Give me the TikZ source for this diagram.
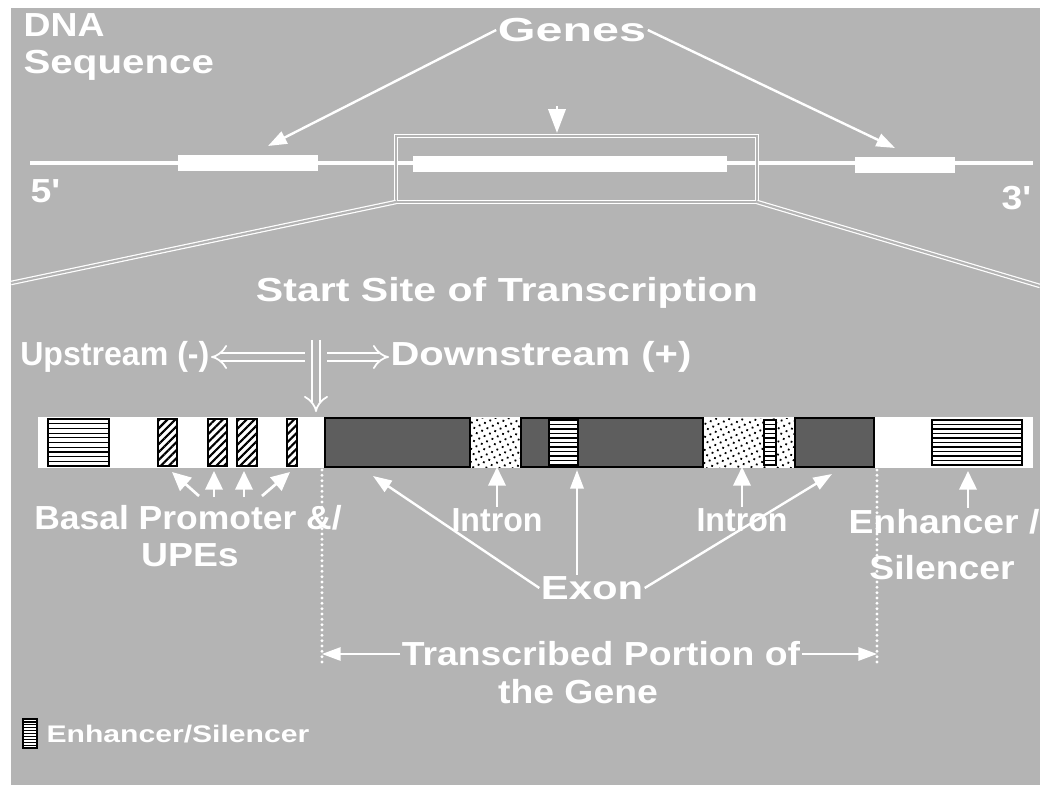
\documentclass[tikz,border=0pt]{standalone}
\usepackage{fontspec}
\setmainfont{Liberation Sans}[FakeStretch=1.12]
\usetikzlibrary{arrows.meta,patterns.meta,fit,calc}
\definecolor{bg}{HTML}{B4B4B4}
\definecolor{exonfill}{HTML}{5E5E5E}
% horizontal stretch of a label
\newcommand{\hs}[2]{\scalebox{#1}[1]{#2}}

\begin{document}
\begin{tikzpicture}[x=0.75pt,y=-0.75pt,
  lbl/.style={text=white,font=\bfseries\fontsize{25}{28}\selectfont,align=center,inner sep=1pt},
  small/.style={text=white,font=\bfseries\fontsize{18}{20}\selectfont,inner sep=1pt},
  seg/.style={inner sep=0pt,outer sep=0pt},
  plainbox/.style={seg,fill=white},
  exonbox/.style={seg,draw=black,line width=1.1pt,fill=exonfill},
  hatchbox/.style={seg,draw=black,line width=1.1pt,fill=white,
    postaction={pattern={Lines[angle=45,distance=4.2pt,line width=1.6pt]}}},
  dotbox/.style={seg,fill=white,
    postaction={pattern={Dots[radius=0.95pt,distance=4.4pt,angle=25]}}},
  enhbox/.style={seg,draw=black,line width=1.1pt,fill=white,
    path picture={\foreach \k in {1,...,9}{
      \draw[line width=0.9pt]
        ($(path picture bounding box.north west)!\k/10!(path picture bounding box.south west)$) --
        ($(path picture bounding box.north east)!\k/10!(path picture bounding box.south east)$);}}},
  dna/.style={white,line width=3pt},
  gene/.style={seg,fill=white},
  dbl/.style={draw=white,line width=0.9pt,double=bg,double distance=1.6pt},
  arr/.style={white,line width=1.8pt,-{Triangle[length=14pt,width=10pt]}},
  tri/.style={white,line width=2pt,-{Triangle[length=14pt,width=13pt]}},
  bigtri/.style={white,line width=2pt,-{Triangle[length=18pt,width=13pt]}},
  dir/.style={draw=white,line width=1.3pt,double=bg,double distance=5pt,-{Implies[length=7pt]}},
  dotline/.style={white,line width=2.4pt,line cap=round,dash pattern=on 0pt off 4pt},
]
% page and grey field
\useasboundingbox (0,0) rectangle (1040,785);
\fill[white] (0,0) rectangle (1040,785);
\fill[bg] (11,8) rectangle (1040,785);

% ---- DNA sequence overview ----
\node[lbl,align=left,anchor=north west] (dnalbl) at (22,12) {DNA\\\hs{1.08}{Sequence}};
\node[lbl] (genes) at (572,30) {\hs{1.3}{Genes}};
\node[lbl] (five) at (45,191) {5\textquotesingle};
\node[lbl] (three) at (1016,198) {3\textquotesingle};

\coordinate (dnaL) at (30,163);
\coordinate (dnaR) at (1033,163);
\draw[dna] (dnaL) -- (dnaR);
\node[gene,fit={(178,155) (318,171)}] (gA) {};
\node[gene,fit={(413,156) (727,172)}] (gB) {};
\node[gene,fit={(855,157) (955,173)}] (gC) {};

\node[seg,dbl,fit={(396,136) (757,202)}] (zoombox) {};
\coordinate (zl) at (11,283);
\coordinate (zr) at (1040,286);
\draw[dbl] (zoombox.south west) -- (zl);
\draw[dbl] (zoombox.south east) -- (zr);

\coordinate (tA) at (268,146);
\coordinate (tB) at (557,133);
\coordinate (tC) at (895,148);
\draw[arr] (genes.west) -- (tA);
\draw[bigtri,shorten <=47pt] (genes.south -| tB) -- (tB);
\draw[arr] (genes.east) -- (tC);

% ---- start site of transcription ----
\node[lbl] (start) at (507,293) {\hs{1.1}{Start Site of Transcription}};
\node[lbl,anchor=east] (up) at (211,357) {\hs{0.86}{Upstream (-)}};
\node[lbl,anchor=west] (down) at (389,357) {\hs{1.07}{Downstream (+)}};
\coordinate (tss) at (316,340);
\coordinate (tssE) at (316,412);
\draw[dir] (305,357) -- (up.east);
\draw[dir] (tss) -- (tssE);
\draw[dir] (327,357) -- (down.west);

% ---- gene bar ----
\node[plainbox,fit={(38,417) (1033,468)}] (bar) {};
\node[enhbox,fit={(48,419) (109,466)}] (enhA) {};
\node[hatchbox,fit={(158,419) (177,466)}] (hA) {};
\node[hatchbox,fit={(208,419) (227,466)}] (hB) {};
\node[hatchbox,fit={(237,419) (257,466)}] (hC) {};
\node[hatchbox,fit={(287,419) (297,466)}] (hD) {};
\node[exonbox,fit={(325,418) (470,467)}] (exA) {};
\node[dotbox,fit={(471,418) (521,467)}] (inA) {};
\node[exonbox,fit={(521,418) (703,467)}] (exB) {};
\node[enhbox,fit={(549,420) (578,465)}] (enhB) {};
\node[dotbox,fit={(704,418) (795,467)}] (inB) {};
\node[enhbox,fit={(764,420) (776,465)}] (enhC) {};
\node[exonbox,fit={(795,418) (874,467)}] (exC) {};
\node[enhbox,fit={(932,420) (1022,465)}] (enhD) {};

% ---- labels under the bar ----
\node[lbl] (basal) at (188,518) {\hs{0.95}{Basal Promoter \&/}};
\node[lbl] (upes) at (190,555) {UPEs};
\coordinate (bA) at (172,472);
\coordinate (bB) at (214,471);
\coordinate (bC) at (244,471);
\coordinate (bD) at (290,472);
\draw[tri] (199,496) -- (bA);
\draw[tri] (214,497) -- (bB);
\draw[tri] (244,497) -- (bC);
\draw[tri] (262,496) -- (bD);

\node[lbl] (intronA) at (497,520) {\hs{0.86}{Intron}};
\node[lbl] (intronB) at (742,520) {\hs{0.86}{Intron}};
\draw[tri] (intronA.north) -- (intronA.north |- exA.south);
\draw[tri] (intronB.north) -- (intronB.north |- exA.south);

\node[lbl] (exon) at (592,588) {\hs{1.12}{Exon}};
\coordinate (eA) at (373,476);
\coordinate (eB) at (577,470);
\coordinate (eC) at (832,474);
\draw[arr] (exon.west) -- (eA);
\draw[arr] (exon.north -| eB) -- (eB);
\draw[arr] (exon.east) -- (eC);

\node[lbl] (enhlbl) at (944,522) {Enhancer /};
\node[lbl] (sil) at (942,568) {Silencer};
\coordinate (enT) at (968,471);
\draw[tri] (enhlbl.north -| enT) -- (enT);

% ---- transcribed portion ----
\coordinate (trL) at (322,470);
\coordinate (trLb) at (322,665);
\coordinate (trR) at (877,470);
\coordinate (trRb) at (877,665);
\draw[dotline] (trL) -- (trLb);
\draw[dotline] (trR) -- (trRb);
\node[lbl] (trans) at (601,654) {Transcribed Portion of};
\node[lbl] (thegene) at (578,692) {the Gene};
\draw[arr,line width=1.4pt] (trans.west) -- (trans.west -| trL);
\draw[arr,line width=1.4pt] (trans.east) -- (trans.east -| trR);

% ---- legend ----
\node[enhbox,fit={(23,719) (37,748)}] (legbox) {};
\node[small,anchor=west] (leg) at (45,734) {\hs{1.12}{Enhancer/Silencer}};
\end{tikzpicture}
\end{document}
